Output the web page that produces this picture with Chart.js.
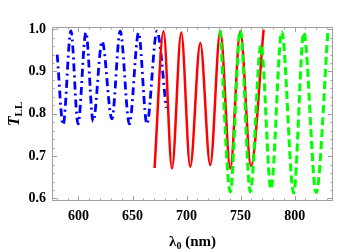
<!DOCTYPE html>
<html>
<head>
<meta charset="utf-8">
<script src="https://cdn.jsdelivr.net/npm/chart.js@4"></script>
<style>
  html, body { margin: 0; padding: 0; background: #fff; }
  #wrap { width: 360px; height: 252px; }
</style>
</head>
<body>
<div id="wrap"><canvas id="myChart" width="360" height="252"></canvas></div>
<script>
// wavelength (nm) and transmission values
const blueX = [580.3, 585.8, 593.0, 599.6, 606.9, 613.6, 621.9, 630.9, 638.6, 647.1, 655.6, 663.3, 672.6, 681.2];
const blueY = [0.940, 0.774, 0.996, 0.776, 0.992, 0.782, 0.971, 0.788, 0.995, 0.776, 0.991, 0.776, 0.995, 0.814];

const redX = [670.4, 678.7, 686.5, 695.1, 703.4, 712.7, 721.9, 731.2, 740.5, 749.7, 759.6, 771.3];
const redY = [0.672, 0.995, 0.671, 0.992, 0.675, 0.967, 0.679, 0.995, 0.671, 0.995, 0.677, 0.999];

const greenX = [731.2, 740.5, 749.7, 759.0, 768.9, 778.1, 788.1, 799.1, 808.5, 819.9, 830.9];
const greenY = [0.997, 0.616, 0.997, 0.616, 0.963, 0.622, 0.994, 0.613, 0.992, 0.614, 0.999];

const xTicks = [600, 650, 700, 750, 800];
const yTicks = [0.6, 0.7, 0.8, 0.9, 1.0];
const xMinor = [580, 590, 610, 620, 630, 640, 660, 670, 680, 690, 710, 720, 730, 740, 760, 770, 780, 790, 810, 820, 830];
const yMinor = [0.62, 0.64, 0.66, 0.68, 0.72, 0.74, 0.76, 0.78, 0.82, 0.84, 0.86, 0.88, 0.92, 0.94, 0.96, 0.98];

const serif = "'Liberation Serif', 'DejaVu Serif', serif";
const frameColor = '#a0a0a0';

function pts(xs, ys) {
    return xs.map((x, i) => ({ x: x, y: ys[i] }));
}

// frame with inward ticks on all four sides (Mathematica style)
const framePlugin = {
    id: 'frame',
    afterDatasetsDraw(chart) {
        const ctx = chart.ctx;
        const a = chart.chartArea;
        const xs = chart.scales.x, ys = chart.scales.y;
        ctx.save();
        ctx.strokeStyle = frameColor;
        ctx.lineWidth = 1;
        ctx.strokeRect(a.left + 0.5, a.top + 0.5, a.right - a.left - 1, a.bottom - a.top - 1);
        ctx.beginPath();
        const tickX = (v, len) => {
            const p = Math.round(xs.getPixelForValue(v)) + 0.5;
            ctx.moveTo(p, a.bottom); ctx.lineTo(p, a.bottom - len);
            ctx.moveTo(p, a.top); ctx.lineTo(p, a.top + len);
        };
        const tickY = (v, len) => {
            const p = Math.round(ys.getPixelForValue(v)) + 0.5;
            ctx.moveTo(a.left, p); ctx.lineTo(a.left + len, p);
            ctx.moveTo(a.right, p); ctx.lineTo(a.right - len, p);
        };
        xTicks.forEach(v => tickX(v, 5));
        xMinor.forEach(v => tickX(v, 2.5));
        yTicks.forEach(v => tickY(v, 5));
        yMinor.forEach(v => tickY(v, 2.5));
        ctx.stroke();
        ctx.restore();
    },
    afterDraw(chart) {
        const ctx = chart.ctx;
        const a = chart.chartArea;
        ctx.save();
        ctx.fillStyle = '#000';
        // y title: T_LL rotated
        ctx.translate(14, (a.top + a.bottom) / 2);
        ctx.rotate(-Math.PI / 2);
        ctx.textBaseline = 'alphabetic';
        ctx.font = 'italic bold 16px ' + serif;
        const tW = ctx.measureText('T').width;
        ctx.font = 'bold 11px ' + serif;
        const sW = ctx.measureText('LL').width;
        const start = -(tW + sW) / 2;
        ctx.font = 'italic bold 16px ' + serif;
        ctx.fillText('T', start, 5);
        ctx.font = 'bold 11px ' + serif;
        ctx.fillText('LL', start + tW, 8);
        ctx.restore();

        // x title: λ0 (nm)
        ctx.save();
        ctx.fillStyle = '#000';
        ctx.textBaseline = 'alphabetic';
        ctx.font = 'bold 15px ' + serif;
        const lW = ctx.measureText('λ').width;
        const rest = ' (nm)';
        const rW = ctx.measureText(rest).width;
        ctx.font = 'bold 10px ' + serif;
        const zW = ctx.measureText('0').width;
        const cx = (a.left + a.right) / 2;
        let x0 = cx - (lW + zW + rW) / 2;
        const by = 246;
        ctx.font = 'bold 15px ' + serif;
        ctx.fillText('λ', x0, by);
        ctx.font = 'bold 10px ' + serif;
        ctx.fillText('0', x0 + lW, by + 3);
        ctx.font = 'bold 15px ' + serif;
        ctx.fillText(rest, x0 + lW + zW, by);
        ctx.restore();
    }
};

const ctx = document.getElementById('myChart').getContext('2d');

window.myChart = new Chart(ctx, {
    type: 'line',
    data: {
        datasets: [{
            label: 'blue',
            data: pts(blueX, blueY),
            borderColor: '#0000ff',
            borderWidth: 2.8,
            borderDash: [8, 4, 2, 4],
            pointRadius: 0,
            fill: false,
            cubicInterpolationMode: 'monotone',
            order: 2
        }, {
            label: 'red',
            data: pts(redX, redY),
            borderColor: '#ff0000',
            borderWidth: 2.5,
            pointRadius: 0,
            fill: false,
            cubicInterpolationMode: 'monotone',
            order: 1
        }, {
            label: 'green',
            data: pts(greenX, greenY),
            borderColor: '#00ff00',
            borderWidth: 3,
            borderDash: [8, 4],
            pointRadius: 0,
            fill: false,
            cubicInterpolationMode: 'monotone',
            order: 0
        }]
    },
    options: {
        responsive: false,
        animation: false,
        layout: { padding: { left: 0, top: 27, right: 27, bottom: 0 } },
        plugins: {
            legend: { display: false },
            tooltip: { enabled: false }
        },
        scales: {
            x: {
                type: 'linear',
                min: 575.5,
                max: 835.5,
                grid: { display: false, drawTicks: false },
                border: { display: false },
                afterBuildTicks: s => { s.ticks = xTicks.map(v => ({ value: v })); },
                afterFit: s => { s.height = 51; },
                ticks: {
                    color: '#000',
                    padding: 7,
                    maxRotation: 0,
                    font: { family: serif, size: 14, weight: 'bold' },
                    callback: v => String(v)
                }
            },
            y: {
                min: 0.594,
                max: 1.005,
                grid: { display: false, drawTicks: false },
                border: { display: false },
                afterBuildTicks: s => { s.ticks = yTicks.map(v => ({ value: v })); },
                afterFit: s => { s.width = 52; },
                ticks: {
                    color: '#000',
                    padding: 6,
                    font: { family: serif, size: 14, weight: 'bold' },
                    callback: v => v.toFixed(1)
                }
            }
        }
    },
    plugins: [framePlugin]
});
</script>
</body>
</html>
